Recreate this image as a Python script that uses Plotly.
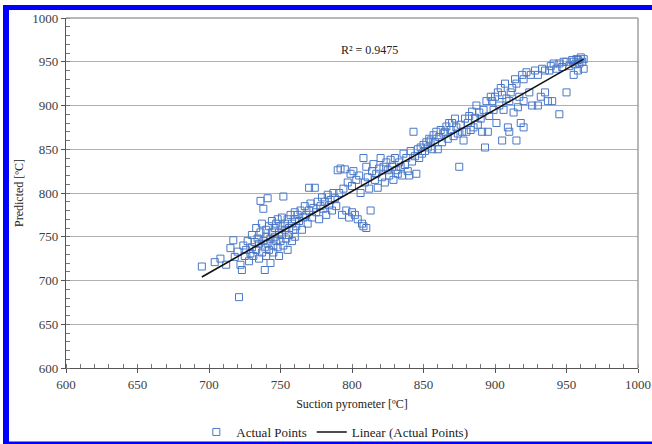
import plotly.graph_objects as go

pts = [
(695,716),(704,721),(708,725),(712,718),(715,737),(717,746),(718,727),(720,733),(721,681),(722,718),(723,712),(724,740),(725,728),(726,735),(727,745),(728,722),(729,731),
(730,738),(730,752),(731,728),(732,744),(733,735),(733,760),(734,748),(735,725),(735,742),(736,755),(736,791),(737,732),(737,765),(738,745),(738,782),(739,712),(739,738),(740,750),(740,758),(740,728),(741,794),(741,742),(742,762),(742,735),(743,748),(743,720),(744,755),(744,768),(745,740),(745,732),(746,760),(746,750),(747,745),(747,765),(748,738),(748,770),(749,755),(749,728),(750,762),(750,745),(751,752),(751,772),(752,796),(752,740),(753,758),(753,765),(754,748),(755,770),(755,735),(756,760),(756,752),(757,775),(758,745),(758,765),(759,758),(760,770),(760,750),(760,778),
(761,762),(762,775),(763,768),(764,780),(765,758),(766,772),(767,785),(768,775),(769,765),(770,806),(770,780),(771,788),(772,772),(773,783),(774,806),(775,778),(776,790),(777,770),(778,785),(779,795),(780,782),(781,790),(782,775),(783,798),(784,786),(785,792),(786,780),(787,800),(788,794),(789,785),
(790,826),(791,800),(792,828),(793,775),(794,805),(795,827),(796,780),(797,812),(798,772),(799,822),(800,778),(800,808),(801,825),(802,775),(803,815),(804,770),(805,820),(806,800),(807,765),(808,762),(808,840),(809,812),(810,760),(810,830),(811,818),(812,805),(813,780),(814,825),(815,833),
(816,815),(817,822),(818,806),(819,828),(820,840),(821,818),(822,830),(823,812),(824,835),(825,826),(826,820),(827,838),(828,830),(829,815),(830,840),(831,826),(832,822),(833,835),(834,830),(835,820),(836,845),(837,832),(838,840),(839,825),(840,820),(841,848),(842,836),(843,870),(844,842),(845,822),(846,850),(847,840),(848,852),(849,845),(850,855),
(851,848),(852,858),(853,852),(854,862),(855,860),(856,850),(857,866),(858,858),(859,870),(860,850),(861,864),(862,872),(863,858),(864,868),(865,870),(866,876),(867,862),(868,880),(869,872),(870,880),(871,865),(872,885),(873,875),(874,868),(875,830),(876,878),(877,870),(878,860),(879,885),(880,870),
(881,880),(882,888),(883,872),(884,893),(885,875),(886,886),(887,900),(888,878),(889,892),(890,885),(891,870),(892,895),(893,852),(894,905),(895,870),(896,888),(897,910),(898,905),(899,895),(900,910),(901,880),(902,915),(903,900),(904,920),(905,860),(905,912),(906,895),(907,925),(908,908),(909,875),(910,905),(910,870),(911,915),(912,920),(913,892),(914,930),(915,925),(915,860),(916,898),(917,910),(918,880),(919,935),(920,875),(920,905),(920,930),
(922,938),(924,915),(925,935),(926,900),(928,940),(930,935),(930,900),(932,910),(933,942),(935,940),(935,915),(937,905),(938,940),(939,945),(940,905),(941,948),(943,942),(945,890),(945,948),(947,944),(948,950),(950,915),(950,950),(952,945),(954,952),(955,950),(955,935),(956,947),(957,953),(958,952),(958,940),(959,948),(960,955),(961,950),(962,942),(962,953),
]
actual_x = [p[0] for p in pts]
actual_y = [p[1] for p in pts]

trend_x = [695, 962]
trend_y = [704, 953]

tick_vals = [600, 650, 700, 750, 800, 850, 900, 950, 1000]
r2_text = "R² = 0.9475"

FONT = "Liberation Serif"
TICKC = "#404040"

fig = go.Figure()
fig.add_trace(go.Scatter(
    x=actual_x, y=actual_y, mode="markers", name="Actual Points",
    marker=dict(symbol="square-open", size=7, color="#4a78c8", line=dict(width=1)),
))
fig.add_trace(go.Scatter(
    x=trend_x, y=trend_y, mode="lines", name="Linear (Actual Points)",
    line=dict(color="#111111", width=1.6),
))

axis_common = dict(
    range=[600, 1000], tickvals=tick_vals, ticks="outside", ticklen=4, tickcolor="#555555",
    showline=True, linecolor="#555555", linewidth=1.2, mirror=False, zeroline=False,
    automargin=False,
    tickfont=dict(family=FONT, size=13, color=TICKC),
    minor=dict(dtick=10, ticks="inside", ticklen=4, tickcolor="#777777", showgrid=False),
)
fig.update_xaxes(**axis_common, showgrid=False,
                 title=dict(text="Suction pyrometer [ºC]", font=dict(family=FONT, size=12, color="#222222"), standoff=8))
fig.update_yaxes(**axis_common, showgrid=True, gridcolor="#b0b0b0", gridwidth=1,
                 title=dict(text="Predicted [ºC]", font=dict(family=FONT, size=12, color="#222222"), standoff=6))

shapes = [
    dict(type="line", xref="paper", yref="paper", x0=1, x1=1, y0=0, y1=1, line=dict(color="#a0a0a0", width=1.5)),
    dict(type="line", xref="paper", yref="paper", x0=0, x1=1, y0=1, y1=1, line=dict(color="#a0a0a0", width=1.5)),
    dict(type="rect", xref="paper", yref="paper", x0=(3-66)/572, x1=(9-66)/572, y0=(368-444)/350, y1=(368-5)/350,
         fillcolor="#0000ff", line=dict(width=0), layer="above"),
    dict(type="rect", xref="paper", yref="paper", x0=(3-66)/572, x1=(652-66)/572, y0=(368-10)/350, y1=(368-5)/350,
         fillcolor="#0000ff", line=dict(width=0), layer="above"),
    dict(type="rect", xref="paper", yref="paper", x0=(3-66)/572, x1=(652-66)/572, y0=(368-444)/350, y1=(368-441.5)/350,
         fillcolor="#0000ff", line=dict(width=0), layer="above"),
]

fig.update_layout(
    width=652, height=444,
    margin=dict(l=66, r=14, t=18, b=76, autoexpand=False),
    paper_bgcolor="white", plot_bgcolor="white",
    font=dict(family=FONT, size=12, color="#222222"),
    showlegend=True,
    legend=dict(orientation="h", x=0.47, xanchor="center", yref="container", y=(444-432)/444, yanchor="middle",
                font=dict(family=FONT, size=13, color="#222222"), itemwidth=30, tracegroupgap=0,
                bgcolor="rgba(0,0,0,0)"),
    shapes=shapes,
    annotations=[dict(x=812, y=963, xref="x", yref="y", text=r2_text, showarrow=False,
                      font=dict(family=FONT, size=12, color="#222222"))],
)

fig.write_html("out.html", config={"displayModeBar": False},
               post_script="document.body.style.margin='0px';document.body.style.overflow='hidden';")
